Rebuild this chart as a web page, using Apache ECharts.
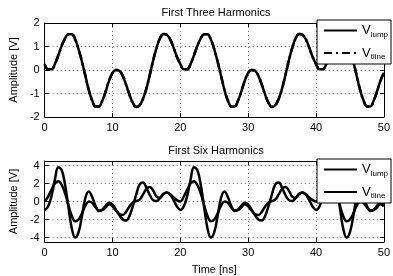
<!DOCTYPE html>
<html><head><meta charset="utf-8">
<script src="https://cdn.jsdelivr.net/npm/echarts@6/dist/echarts.min.js"></script>
<style>html,body{margin:0;padding:0;background:#fff}#c{width:393px;height:276px}</style>
</head><body><div id="c"></div>
<script>
const time = [0,0.5,1,1.5,2,2.5,3,3.5,4,4.5,5,5.5,6,6.5,7,7.5,8,8.5,9,9.5,10,10.5,11,11.5,12,12.5,13,13.5,14,14.5,15,15.5,16,16.5,17,17.5,18,18.5,19,19.5,
20,20.5,21,21.5,22,22.5,23,23.5,24,24.5,25,25.5,26,26.5,27,27.5,28,28.5,29,29.5,30,30.5,31,31.5,32,32.5,33,33.5,34,34.5,35,35.5,36,36.5,37,37.5,38,38.5,39,39.5,
40,40.5,41,41.5,42,42.5,43,43.5,44,44.5,45,45.5,46,46.5,47,47.5,48,48.5,49,49.5,50];
const lump3 = [0.25,0.03,0.03,0.25,0.62,1.02,1.35,1.52,1.52,1.3,0.88,0.35,-0.25,-0.85,-1.3,-1.55,-1.55,-1.3,-0.9,-0.45,-0.12,0.0,-0.03,-0.25,-0.62,-1.05,-1.4,-1.57,-1.5,-1.22,-0.78,-0.2,0.42,0.95,1.35,1.53,1.5,1.3,0.95,0.55,
0.25,0.03,0.03,0.25,0.62,1.02,1.35,1.52,1.52,1.3,0.88,0.35,-0.25,-0.85,-1.3,-1.55,-1.55,-1.3,-0.9,-0.45,-0.12,0.0,-0.03,-0.25,-0.62,-1.05,-1.4,-1.57,-1.5,-1.22,-0.78,-0.2,0.42,0.95,1.35,1.53,1.5,1.3,0.95,0.55,
0.25,0.03,0.03,0.25,0.62,1.02,1.35,1.52,1.52,1.3,0.88,0.35,-0.25,-0.85,-1.3,-1.55,-1.55,-1.3,-0.9,-0.45,-0.12];
const tline3 = [0.25,0.03,0.03,0.25,0.62,1.02,1.35,1.52,1.52,1.3,0.88,0.35,-0.25,-0.85,-1.3,-1.55,-1.55,-1.3,-0.9,-0.45,-0.12,0.0,-0.03,-0.25,-0.62,-1.05,-1.4,-1.57,-1.5,-1.22,-0.78,-0.2,0.42,0.95,1.35,1.53,1.5,1.3,0.95,0.55,
0.25,0.03,0.03,0.25,0.62,1.02,1.35,1.52,1.52,1.3,0.88,0.35,-0.25,-0.85,-1.3,-1.55,-1.55,-1.3,-0.9,-0.45,-0.12,0.0,-0.03,-0.25,-0.62,-1.05,-1.4,-1.57,-1.5,-1.22,-0.78,-0.2,0.42,0.95,1.35,1.53,1.5,1.3,0.95,0.55,
0.25,0.03,0.03,0.25,0.62,1.02,1.35,1.52,1.52,1.3,0.88,0.35,-0.25,-0.85,-1.3,-1.55,-1.55,-1.3,-0.9,-0.45,-0.12];
const lump6 = [-0.95,-0.55,0.6,2.4,3.8,3.5,1.9,-0.6,-3.0,-4.0,-3.4,-1.6,0.4,1.1,0.5,-0.5,-1.05,-0.9,-0.45,-0.15,-0.35,-0.9,-1.5,-2.0,-2.1,-1.6,-0.5,0.8,1.9,2.1,1.5,0.7,0.15,0.05,0.4,0.85,1.0,0.75,0.15,-0.55,
-0.95,-0.55,0.6,2.4,3.8,3.5,1.9,-0.6,-3.0,-4.0,-3.4,-1.6,0.4,1.1,0.5,-0.5,-1.05,-0.9,-0.45,-0.15,-0.35,-0.9,-1.5,-2.0,-2.1,-1.6,-0.5,0.8,1.9,2.1,1.5,0.7,0.15,0.05,0.4,0.85,1.0,0.75,0.15,-0.55,
-0.95,-0.55,0.6,2.4,3.8,3.5,1.9,-0.6,-3.0,-4.0,-3.4,-1.6,0.4,1.1,0.5,-0.5,-1.05,-0.9,-0.45,-0.15,-0.35];
const tline6 = [0.0,0.55,1.3,2.0,2.25,1.85,0.9,-0.4,-1.6,-2.2,-2.0,-1.3,-0.45,0.0,-0.15,-0.65,-1.0,-0.95,-0.65,-0.3,-0.55,-1.0,-1.4,-1.5,-1.15,-0.55,-0.1,0.05,0.2,0.8,1.4,1.6,1.2,0.55,0.4,0.8,1.0,0.8,0.45,0.15,
0.0,0.55,1.3,2.0,2.25,1.85,0.9,-0.4,-1.6,-2.2,-2.0,-1.3,-0.45,0.0,-0.15,-0.65,-1.0,-0.95,-0.65,-0.3,-0.55,-1.0,-1.4,-1.5,-1.15,-0.55,-0.1,0.05,0.2,0.8,1.4,1.6,1.2,0.55,0.4,0.8,1.0,0.8,0.45,0.15,
0.0,0.55,1.3,2.0,2.25,1.85,0.9,-0.4,-1.6,-2.2,-2.0,-1.3,-0.45,0.0,-0.15,-0.65,-1.0,-0.95,-0.65,-0.3,-0.55];
const yTicks6 = [-4,-2,0,2,4];
const titles = ['First Three Harmonics','First Six Harmonics'];
const yName = 'Amplitude [V]';
const xName = 'Time [ns]';
const legendLabels = {lump3:['V','lump'], tline3:['V','tline'], lump6:['V','lump'], tline6:['V','tline']};

const FONT = '"Liberation Sans", Arial, sans-serif';
const pairs = (ys) => time.map((t, i) => [t, ys[i]]);
const grids = [
  {left: 34, top: 23, width: 355, height: 94},
  {left: 34, top: 161, width: 355, height: 91}
];
const gridLine = {show: true, lineStyle: {color: '#777', type: [1, 3], width: 1}};
function xAx(g, pos, withLabels) {
  return {
    type: 'value', gridIndex: g, position: pos, min: 0, max: 50, interval: 10,
    axisLine: {show: true, onZero: false, lineStyle: {color: '#000', width: 1}},
    axisTick: {show: true, inside: true, length: 4, lineStyle: {color: '#000'}},
    axisLabel: {show: withLabels, color: '#000', fontSize: 11, fontFamily: FONT, margin: 5},
    splitLine: withLabels ? gridLine : {show: false},
    name: (withLabels && g === 1) ? xName : '', nameLocation: 'middle', nameGap: 22,
    nameTextStyle: {color: '#000', fontSize: 11, fontFamily: FONT}
  };
}
function yAx(g, pos, withLabels) {
  const a = {
    type: 'value', gridIndex: g, position: pos,
    axisLine: {show: true, onZero: false, lineStyle: {color: '#000', width: 1}},
    axisTick: {show: true, inside: true, length: 4, lineStyle: {color: '#000'}},
    axisLabel: {show: withLabels, color: '#000', fontSize: 11, fontFamily: FONT, margin: 5},
    splitLine: withLabels ? gridLine : {show: false},
    name: withLabels ? yName : '', nameLocation: 'middle', nameGap: 19, nameRotate: 90,
    nameTextStyle: {color: '#000', fontSize: 11, fontFamily: FONT}
  };
  if (g === 0) { a.min = -2; a.max = 2; a.interval = 1; }
  else {
    a.min = -4.5; a.max = 4.5;
    a.axisTick.customValues = yTicks6;
    a.axisLabel.customValues = yTicks6;
  }
  return a;
}
function legend(top, names) {
  return {
    data: names, orient: 'vertical', left: 317, top: top, selectedMode: false,
    backgroundColor: '#fff', borderColor: '#000', borderWidth: 1, borderRadius: 0,
    padding: [4, 3, 3, 6], itemWidth: 33, itemHeight: 14, itemGap: 8,
    itemStyle: {opacity: 0},
    formatter: (n) => '{v|' + legendLabels[n][0] + '}{s|' + legendLabels[n][1] + '}',
    textStyle: {color: '#000', fontFamily: FONT, rich: {
      v: {fontSize: 13, fontFamily: FONT, color: '#000'},
      s: {fontSize: 8, fontFamily: FONT, color: '#000', padding: [8, 0, 0, 0]}
    }}
  };
}
const lineS = (name, ys, xi, yi, type) => ({
  name: name, type: 'line', xAxisIndex: xi, yAxisIndex: yi, data: pairs(ys),
  symbol: 'none', smooth: 0.4, lineStyle: {color: '#000', width: 2.5, type: type || 'solid'},
  itemStyle: {color: '#000'}
});
const chart = echarts.init(document.getElementById('c'), null, {renderer: 'canvas'});
chart.setOption({
  animation: false,
  backgroundColor: '#fff',
  title: [
    {text: titles[0], left: 211, top: 2, textAlign: 'center', textStyle: {fontSize: 11, fontWeight: 'normal', color: '#000', fontFamily: FONT}},
    {text: titles[1], left: 211, top: 140, textAlign: 'center', textStyle: {fontSize: 11, fontWeight: 'normal', color: '#000', fontFamily: FONT}}
  ],
  grid: grids,
  xAxis: [xAx(0, 'bottom', true), xAx(0, 'top', false), xAx(1, 'bottom', true), xAx(1, 'top', false)],
  yAxis: [yAx(0, 'left', true), yAx(0, 'right', false), yAx(1, 'left', true), yAx(1, 'right', false)],
  legend: [legend(20, ['lump3', 'tline3']), legend(159, ['lump6', 'tline6'])],
  series: [
    lineS('lump3', lump3, 0, 0),
    lineS('tline3', tline3, 0, 0, [8, 4, 2, 4]),
    lineS('lump6', lump6, 2, 2),
    lineS('tline6', tline6, 2, 2)
  ]
});
</script></body></html>
